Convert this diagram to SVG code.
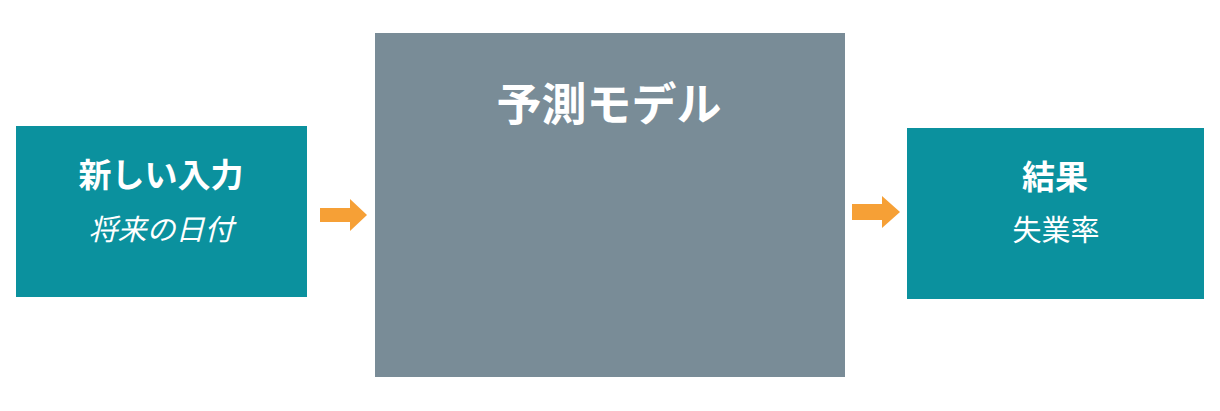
<svg xmlns="http://www.w3.org/2000/svg" width="1220" height="411" viewBox="0 0 1220 411">
<style>
.teal{fill:#0b919e}
.gray{fill:#798c97}
.t{fill:#ffffff;font-family:"Noto Sans CJK JP","Noto Sans",sans-serif;text-anchor:middle}
.b{font-weight:bold}
.arr{fill:#f6a036}
</style>
<rect width="1220" height="411" fill="#ffffff"/>
<g id="input">
<rect class="teal" x="16" y="126" width="291" height="171"/>
<text class="t b" x="161" y="187" font-size="33">新しい入力</text>
<text class="t" x="161" y="240" font-size="29" font-style="italic">将来の日付</text>
</g>
<g id="model">
<rect class="gray" x="375" y="33" width="470" height="344"/>
<text class="t b" x="609" y="121" font-size="45">予測モデル</text>
</g>
<g id="result">
<rect class="teal" x="907" y="128" width="297" height="171"/>
<text class="t b" x="1055" y="189" font-size="33">結果</text>
<text class="t" x="1056" y="241" font-size="29">失業率</text>
</g>
<g id="connectors">
<polygon class="arr" points="320,208 350,208 350,199 367,215 350,231 350,222 320,222"/>
<polygon class="arr" points="852,204 882,204 882,196 900,212 882,228 882,220 852,220"/>
</g>
</svg>
